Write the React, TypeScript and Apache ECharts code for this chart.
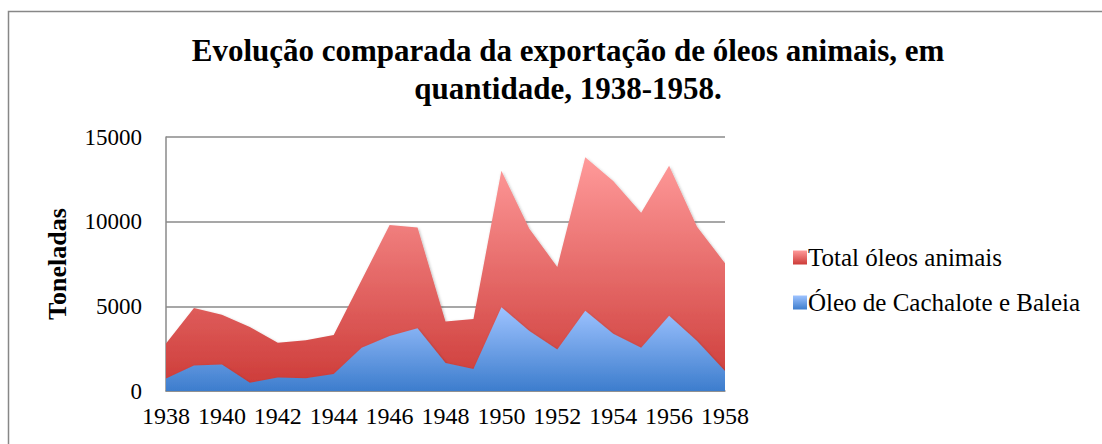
import React, { useEffect, useRef } from "react";
import * as echarts from "echarts";

const years = [
  "1938", "1939", "1940", "1941", "1942", "1943", "1944", "1945", "1946", "1947",
  "1948", "1949", "1950", "1951", "1952", "1953", "1954", "1955", "1956", "1957", "1958",
];
const totalOleos = [
  2800, 4900, 4500, 3780, 2850, 3000, 3300, 6550, 9800, 9650,
  4100, 4250, 13000, 9580, 7330, 13800, 12400, 10520, 13300, 9700, 7550,
];
const cachaloteBaleia = [
  740, 1500, 1560, 480, 790, 750, 1000, 2550, 3250, 3700,
  1650, 1300, 4950, 3540, 2450, 4740, 3380, 2560, 4440, 2950, 1180,
];
const yTicks = [0, 5000, 10000, 15000];

const FONT = "'Liberation Serif', 'DejaVu Serif', serif";

const redGrad = () =>
  new echarts.graphic.LinearGradient(0, 0, 0, 1, [
    { offset: 0, color: "#FF9A9A" },
    { offset: 1, color: "#CC3A37" },
  ]);
const blueGrad = () =>
  new echarts.graphic.LinearGradient(0, 0, 0, 1, [
    { offset: 0, color: "#9EC3FF" },
    { offset: 1, color: "#3D7DCD" },
  ]);

export default function App() {
  const ref = useRef<HTMLDivElement>(null);
  useEffect(() => {
    if (!ref.current) return;
    const chart = echarts.init(ref.current, undefined, { renderer: "svg" });
    chart.setOption({
      animation: false,
      backgroundColor: "#ffffff",
      title: {
        text: "Evolução comparada da exportação de óleos animais, em\nquantidade, 1938-1958.",
        left: 563,
        top: 26,
        textAlign: "center",
        textStyle: {
          fontFamily: FONT,
          fontWeight: "bold",
          fontSize: 31,
          lineHeight: 38,
          color: "#000",
        },
      },
      graphic: [
        {
          type: "rect",
          shape: { x: 8.5, y: 11.5, width: 1200, height: 500 },
          style: { fill: "none", stroke: "#878787", lineWidth: 1.5 },
          silent: true,
          z: 100,
        },
      ],
      legend: {
        orient: "vertical",
        left: 788,
        top: 240,
        itemWidth: 14,
        itemHeight: 14,
        itemGap: 20,
        icon: "rect",
        textStyle: { fontFamily: FONT, fontSize: 25, color: "#000", padding: [0, 0, 0, -4] },
        data: [
          { name: "Total óleos animais", itemStyle: { color: redGrad() } },
          { name: "Óleo de Cachalote e Baleia", itemStyle: { color: blueGrad() } },
        ],
      },
      grid: { left: 166, right: 377, top: 137, bottom: 53, containLabel: false },
      xAxis: {
        type: "category",
        data: years,
        boundaryGap: false,
        axisLine: { show: true, lineStyle: { color: "#8a8a8a", width: 1.5 } },
        axisTick: { show: false },
        axisLabel: {
          interval: 1,
          fontFamily: FONT,
          fontSize: 24,
          color: "#000",
          margin: 13,
        },
        splitLine: { show: false },
      },
      yAxis: {
        type: "value",
        min: 0,
        max: 15000,
        interval: 5000,
        name: "Toneladas",
        nameLocation: "middle",
        nameGap: 96,
        nameRotate: 90,
        nameTextStyle: { fontFamily: FONT, fontWeight: "bold", fontSize: 26, color: "#000" },
        axisLine: { show: true, lineStyle: { color: "#8a8a8a", width: 1.5 } },
        axisTick: { show: false },
        axisLabel: {
          fontFamily: FONT,
          fontSize: 23,
          color: "#000",
          margin: 24,
          formatter: (v: number) => (yTicks.includes(v) ? String(v) : ""),
        },
        splitLine: { show: true, lineStyle: { color: "#8a8a8a", width: 1.5 } },
      },
      series: [
        {
          name: "Total óleos animais",
          type: "line",
          data: totalOleos,
          symbol: "none",
          lineStyle: { width: 0 },
          itemStyle: { color: redGrad() },
          areaStyle: {
            color: redGrad(),
            opacity: 1,
            shadowColor: "rgba(0,0,0,0.3)",
            shadowBlur: 3,
            shadowOffsetX: 1,
            shadowOffsetY: 1.5,
          },
          z: 2,
        },
        {
          name: "Óleo de Cachalote e Baleia",
          type: "line",
          data: cachaloteBaleia,
          symbol: "none",
          lineStyle: { width: 0 },
          itemStyle: { color: blueGrad() },
          areaStyle: {
            color: blueGrad(),
            opacity: 1,
            shadowColor: "rgba(0,0,0,0.3)",
            shadowBlur: 3,
            shadowOffsetX: 1,
            shadowOffsetY: 1.5,
          },
          z: 3,
        },
      ],
    });
    return () => chart.dispose();
  }, []);
  return (
    <div
      ref={ref}
      style={{ position: "fixed", left: 0, top: 0, width: 1102, height: 444 }}
    />
  );
}
